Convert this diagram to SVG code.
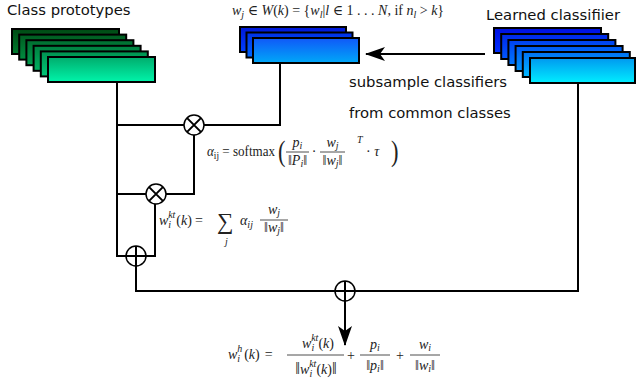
<svg xmlns="http://www.w3.org/2000/svg" width="636" height="381" viewBox="0 0 636 381">
<defs>
<linearGradient id="g1" x1="0" y1="0" x2="0" y2="1"><stop offset="0" stop-color="#004a14"/><stop offset="1" stop-color="#007a2e"/></linearGradient>
<linearGradient id="g2" x1="0" y1="0" x2="0" y2="1"><stop offset="0" stop-color="#005c20"/><stop offset="1" stop-color="#008c40"/></linearGradient>
<linearGradient id="g3" x1="0" y1="0" x2="0" y2="1"><stop offset="0" stop-color="#006e30"/><stop offset="1" stop-color="#009e50"/></linearGradient>
<linearGradient id="g4" x1="0" y1="0" x2="0" y2="1"><stop offset="0" stop-color="#008040"/><stop offset="1" stop-color="#00b062"/></linearGradient>
<linearGradient id="g5" x1="0" y1="0" x2="0" y2="1"><stop offset="0" stop-color="#009250"/><stop offset="1" stop-color="#00c878"/></linearGradient>
<linearGradient id="g6" x1="0" y1="0" x2="0" y2="1"><stop offset="0" stop-color="#00ac6c"/><stop offset="1" stop-color="#00f4aa"/></linearGradient>
<linearGradient id="m1" x1="0" y1="0" x2="0" y2="1"><stop offset="0" stop-color="#0018d8"/><stop offset="1" stop-color="#0040ff"/></linearGradient>
<linearGradient id="m2" x1="0" y1="0" x2="0" y2="1"><stop offset="0" stop-color="#0030e8"/><stop offset="1" stop-color="#0066ff"/></linearGradient>
<linearGradient id="m3" x1="0" y1="0" x2="0" y2="1"><stop offset="0" stop-color="#1058f8"/><stop offset="1" stop-color="#00a8f8"/></linearGradient>
<linearGradient id="b1" x1="0" y1="0" x2="0" y2="1"><stop offset="0" stop-color="#0010e0"/><stop offset="1" stop-color="#0030ff"/></linearGradient>
<linearGradient id="b2" x1="0" y1="0" x2="0" y2="1"><stop offset="0" stop-color="#0028e8"/><stop offset="1" stop-color="#0058ff"/></linearGradient>
<linearGradient id="b3" x1="0" y1="0" x2="0" y2="1"><stop offset="0" stop-color="#0040f0"/><stop offset="1" stop-color="#0078ff"/></linearGradient>
<linearGradient id="b4" x1="0" y1="0" x2="0" y2="1"><stop offset="0" stop-color="#0058f4"/><stop offset="1" stop-color="#0098ff"/></linearGradient>
<linearGradient id="b5" x1="0" y1="0" x2="0" y2="1"><stop offset="0" stop-color="#0070f4"/><stop offset="1" stop-color="#00b8ff"/></linearGradient>
<linearGradient id="b6" x1="0" y1="0" x2="0" y2="1"><stop offset="0" stop-color="#0098f0"/><stop offset="1" stop-color="#00eeff"/></linearGradient>
<marker id="ah" viewBox="0 0 20 14" refX="19" refY="7" markerWidth="20" markerHeight="14" markerUnits="userSpaceOnUse" orient="auto">
<path d="M0,0 L20,7 L0,14 L5,7 Z" fill="#000"/>
</marker>
</defs>
<style>
.card{stroke:#000;stroke-width:2}
.ln{fill:none;stroke:#000;stroke-width:2}
.op{fill:#fff;stroke:#000;stroke-width:1.5}
.lab{font-family:"DejaVu Sans",Verdana,sans-serif;font-size:14.8px;fill:#111}
.m{font-family:"Liberation Serif","DejaVu Serif",serif;font-size:14px;fill:#222}
.i{font-style:italic}
.s{font-size:10px}
.big{font-size:30px}
.sum{font-size:23px}
.nb{font-size:17px}
.bar{stroke:#222;stroke-width:0.8}
</style>

<g id="class-prototypes">
<rect class="card" x="12" y="29" width="107" height="25" fill="url(#g1)"/>
<rect class="card" x="19.2" y="34.6" width="107" height="25" fill="url(#g2)"/>
<rect class="card" x="26.4" y="40.2" width="107" height="25" fill="url(#g3)"/>
<rect class="card" x="33.6" y="45.8" width="107" height="25" fill="url(#g4)"/>
<rect class="card" x="40.8" y="51.4" width="107" height="25" fill="url(#g5)"/>
<rect class="card" x="48" y="57" width="107" height="25" fill="url(#g6)"/>
<text class="lab" x="7" y="15">Class prototypes</text>
</g>

<g id="subsampled-classifiers">
<rect class="card" x="240" y="27" width="106" height="25" fill="url(#m1)"/>
<rect class="card" x="246.5" y="32.5" width="106" height="25" fill="url(#m2)"/>
<rect class="card" x="253" y="38" width="106" height="25" fill="url(#m3)"/>
</g>

<g id="learned-classifier">
<rect class="card" x="494" y="28" width="107" height="25" fill="url(#b1)"/>
<rect class="card" x="501.2" y="34" width="107" height="25" fill="url(#b2)"/>
<rect class="card" x="508.4" y="40" width="107" height="25" fill="url(#b3)"/>
<rect class="card" x="515.6" y="46" width="107" height="25" fill="url(#b4)"/>
<rect class="card" x="522.8" y="52" width="107" height="25" fill="url(#b5)"/>
<rect class="card" x="530" y="58" width="105" height="25" fill="url(#b6)"/>
<text class="lab" x="486" y="20">Learned classifiier</text>
</g>

<g id="connectors">
<line class="ln" x1="485" y1="54" x2="366" y2="54" marker-end="url(#ah)"/>
<path class="ln" d="M117,82 V256 H126"/>
<path class="ln" d="M117,125 H184 M204,125 H280 V63"/>
<path class="ln" d="M117,194 H146 M166,194 H194 V135"/>
<path class="ln" d="M146,256 H155 V204"/>
<path class="ln" d="M136,266 V291 H335 M355,291 H578 V83"/>
<line class="ln" x1="345" y1="301" x2="345" y2="345" marker-end="url(#ah)"/>
</g>

<g id="mult1">
<circle class="op" cx="194" cy="125" r="10"/>
<path class="ln" stroke-width="1.5" d="M186.9,117.9 L201.1,132.1 M201.1,117.9 L186.9,132.1"/>
</g>
<g id="mult2">
<circle class="op" cx="156" cy="194" r="10"/>
<path class="ln" stroke-width="1.5" d="M148.9,186.9 L163.1,201.1 M163.1,186.9 L148.9,201.1"/>
</g>
<g id="add1">
<circle class="op" cx="136" cy="256" r="10"/>
<path class="ln" stroke-width="1.5" d="M126,256 H146 M136,246 V266"/>
</g>
<g id="add2">
<circle class="op" cx="345" cy="291" r="10"/>
<path class="ln" stroke-width="1.5" d="M335,291 H355 M345,281 V301"/>
</g>

<g id="labels">
<text class="lab" x="349" y="87">subsample classifiers</text>
<text class="lab" x="349" y="118">from common classes</text>
</g>

<g id="formula-top">
<text class="m" x="232" y="15"><tspan class="i">w</tspan><tspan class="s i" dy="3">j</tspan><tspan dy="-3"> ∈ </tspan><tspan class="i">W</tspan>(<tspan class="i">k</tspan>) = {<tspan class="i">w</tspan><tspan class="s i" dy="3">l</tspan><tspan dy="-3">|</tspan><tspan class="i">l</tspan> ∈ 1 . . . <tspan class="i">N</tspan>, if <tspan class="i">n</tspan><tspan class="s i" dy="3">l</tspan><tspan dy="-3"> &gt; </tspan><tspan class="i">k</tspan>}</text>
</g>

<g id="formula-alpha">
<text class="m" x="207" y="156" textLength="68" lengthAdjust="spacingAndGlyphs"><tspan class="i">α</tspan><tspan class="s" dy="3">ij</tspan><tspan dy="-3"> = softmax</tspan></text>
<text class="m big" x="278" y="161" transform="translate(278 161) scale(0.75 1) translate(-278 -161)">(</text>
<text class="m" x="297.5" y="147" text-anchor="middle"><tspan class="i">p</tspan><tspan class="s i" dy="2">i</tspan></text>
<line class="bar" x1="286" y1="152" x2="309" y2="152"/>
<text class="m" x="297.5" y="165" text-anchor="middle">‖<tspan class="i">P</tspan><tspan class="s i" dy="2">i</tspan><tspan dy="-2">‖</tspan></text>
<text class="m" x="314" y="156" text-anchor="middle">·</text>
<text class="m" x="332.5" y="147" text-anchor="middle"><tspan class="i">w</tspan><tspan class="s i" dy="2">j</tspan></text>
<line class="bar" x1="320" y1="152" x2="345" y2="152"/>
<text class="m" x="332.5" y="165" text-anchor="middle">‖<tspan class="i">w</tspan><tspan class="s i" dy="2">j</tspan><tspan dy="-2">‖</tspan></text>
<text class="m s i" x="357" y="143">T</text>
<text class="m" x="366" y="156">· <tspan class="i">τ</tspan></text>
<text class="m big" x="391" y="161" transform="translate(391 161) scale(0.75 1) translate(-391 -161)">)</text>
</g>

<g id="formula-kt">
<text class="m" x="159" y="225"><tspan class="i">w</tspan><tspan class="s i" dy="3">i</tspan><tspan class="s i" dx="-3" dy="-10">kt</tspan><tspan dy="7" dx="1">(</tspan><tspan class="i">k</tspan>)<tspan dx="3">=</tspan></text>
<text class="m sum" x="217" y="229">∑</text>
<text class="m s i" x="225" y="245">j</text>
<text class="m" x="240" y="225"><tspan class="i">α</tspan><tspan class="s i" dy="3">ij</tspan></text>
<text class="m" x="274" y="214" text-anchor="middle"><tspan class="i">w</tspan><tspan class="s i" dy="2">j</tspan></text>
<line class="bar" x1="260" y1="220" x2="288" y2="220"/>
<text class="m" x="274" y="232" text-anchor="middle">‖<tspan class="i">w</tspan><tspan class="s i" dy="2">j</tspan><tspan dy="-2">‖</tspan></text>
</g>

<g id="formula-final">
<text class="m" x="228" y="359"><tspan class="i">w</tspan><tspan class="s i" dy="3">i</tspan><tspan class="s i" dx="-3" dy="-10">h</tspan><tspan dy="7" dx="2">(</tspan><tspan class="i">k</tspan>)<tspan dx="5">=</tspan></text>
<text class="m" x="318" y="348" text-anchor="middle"><tspan class="i">w</tspan><tspan class="s i" dy="3">i</tspan><tspan class="s i" dx="-3" dy="-10">kt</tspan><tspan dy="7">(</tspan><tspan class="i">k</tspan>)</text>
<line class="bar" x1="287" y1="355" x2="344" y2="355"/>
<text class="m" x="316" y="374" text-anchor="middle"><tspan class="nb">‖</tspan><tspan class="i">w</tspan><tspan class="s i" dy="3">i</tspan><tspan class="s i" dx="-3" dy="-10">kt</tspan><tspan dy="7">(</tspan><tspan class="i">k</tspan>)<tspan class="nb">‖</tspan></text>
<text class="m" x="351" y="360" text-anchor="middle">+</text>
<text class="m" x="375" y="349" text-anchor="middle"><tspan class="i">p</tspan><tspan class="s i" dy="2">i</tspan></text>
<line class="bar" x1="360" y1="355" x2="390" y2="355"/>
<text class="m" x="375" y="370" text-anchor="middle">‖<tspan class="i">p</tspan><tspan class="s i" dy="2">i</tspan><tspan dy="-2">‖</tspan></text>
<text class="m" x="400" y="360" text-anchor="middle">+</text>
<text class="m" x="425" y="349" text-anchor="middle"><tspan class="i">w</tspan><tspan class="s i" dy="2">i</tspan></text>
<line class="bar" x1="410" y1="355" x2="440" y2="355"/>
<text class="m" x="425" y="370" text-anchor="middle">‖<tspan class="i">w</tspan><tspan class="s i" dy="2">i</tspan><tspan dy="-2">‖</tspan></text>
</g>
</svg>
